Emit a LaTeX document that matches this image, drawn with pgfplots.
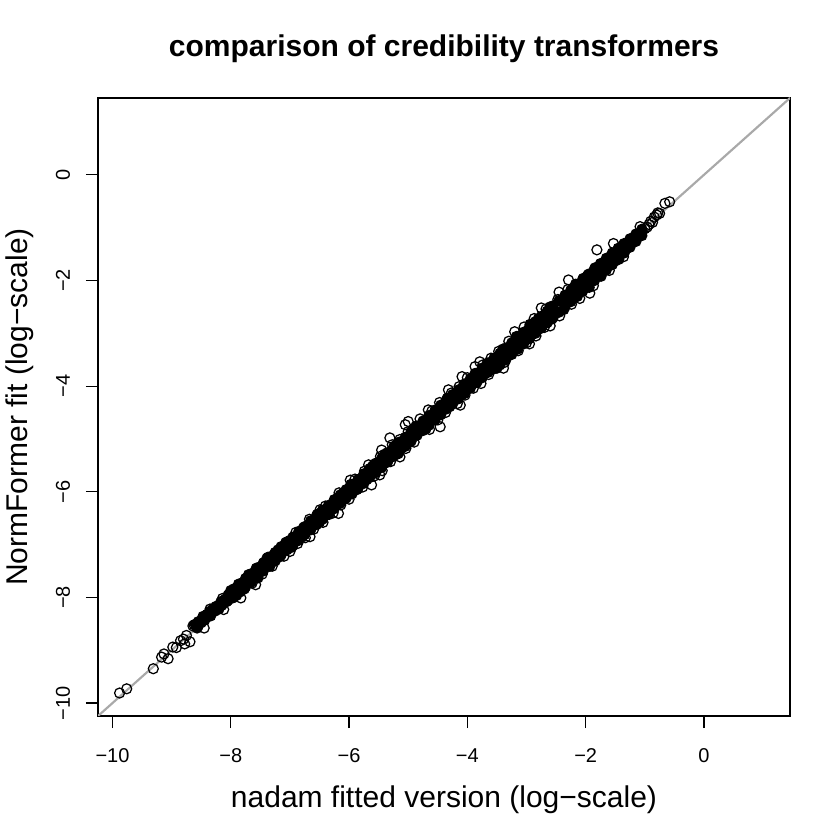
\documentclass[border=0pt]{standalone}
\usepackage{fontspec}
\setmainfont{Liberation Sans}
\usepackage{pgfplots}
\pgfplotsset{compat=1.18}
\definecolor{ablinegray}{RGB}{169,169,169}

% dense core of the cloud (drawn filled, overlapping circles look solid)
\pgfplotstableread{
x y
-8.60 -8.51
-8.57 -8.58
-8.54 -8.48
-8.50 -8.48
-8.47 -8.36
-8.44 -8.43
-8.40 -8.32
-8.37 -8.33
-8.34 -8.35
-8.30 -8.21
-8.27 -8.26
-8.24 -8.19
-8.20 -8.22
-8.17 -8.09
-8.14 -8.12
-8.10 -8.04
-8.07 -8.08
-8.04 -7.95
-8.00 -7.87
-7.97 -8.01
-7.94 -7.89
-7.90 -7.96
-7.87 -7.75
-7.84 -7.81
-7.80 -7.72
-7.77 -7.84
-7.74 -7.74
-7.70 -7.57
-7.67 -7.69
-7.60 -7.54
-7.57 -7.45
-7.54 -7.63
-7.50 -7.49
-7.44 -7.34
-7.40 -7.35
-7.37 -7.24
-7.34 -7.41
-7.27 -7.19
-7.24 -7.24
-7.20 -7.10
-7.17 -7.23
-7.14 -7.11
-7.04 -7.03
-7.00 -6.92
-6.97 -7.05
-6.94 -6.95
-6.84 -6.80
-6.80 -6.86
-6.77 -6.68
-6.70 -6.64
-6.64 -6.68
-6.57 -6.54
-6.54 -6.43
-6.50 -6.58
-6.47 -6.39
-6.37 -6.38
-6.34 -6.43
-6.30 -6.26
-6.24 -6.15
-6.20 -6.24
-6.10 -6.02
-6.07 -6.13
-6.04 -6.01
-5.97 -5.86
-5.94 -5.92
-5.87 -5.96
-5.84 -5.86
-5.80 -5.75
-5.70 -5.77
-5.64 -5.64
-5.60 -5.51
-5.54 -5.50
-5.50 -5.54
-5.40 -5.29
-5.37 -5.44
-5.34 -5.29
-5.24 -5.26
-5.20 -5.13
-5.17 -5.28
-5.10 -5.15
-5.07 -5.05
-4.97 -5.06
-4.94 -4.89
-4.87 -4.76
-4.84 -4.84
-4.77 -4.84
-4.74 -4.67
-4.70 -4.81
-4.67 -4.63
-4.57 -4.61
-4.54 -4.45
-4.44 -4.49
-4.40 -4.35
-4.34 -4.23
-4.30 -4.39
-4.24 -4.26
-4.20 -4.18
-4.10 -4.17
-4.07 -4.00
-3.97 -4.01
-3.94 -3.90
-3.87 -3.76
-3.84 -3.93
-3.80 -3.75
-3.70 -3.75
-3.67 -3.58
-3.57 -3.68
-3.54 -3.54
-3.50 -3.66
-3.44 -3.46
-3.40 -3.30
-3.34 -3.40
-3.27 -3.40
-3.24 -3.20
-3.20 -3.27
-3.17 -3.06
-3.10 -3.04
-3.07 -3.18
-2.97 -2.98
-2.94 -2.83
-2.90 -2.99
-2.80 -2.72
-2.77 -2.91
-2.74 -2.73
-2.64 -2.70
-2.60 -2.50
-2.57 -2.73
-2.54 -2.56
-2.50 -2.61
-2.40 -2.36
-2.37 -2.55
-2.34 -2.38
-2.27 -2.40
-2.20 -2.21
-2.14 -2.30
-2.07 -2.13
-2.04 -1.96
-2.00 -2.14
-1.97 -1.91
-1.94 -2.13
-1.90 -1.94
-1.84 -1.76
-1.80 -1.91
-1.77 -1.73
-1.74 -1.92
-1.70 -1.72
-1.67 -1.81
-1.64 -1.58
-1.57 -1.63
-1.54 -1.51
-1.50 -1.63
-1.47 -1.48
-1.44 -1.60
-1.40 -1.47
-1.37 -1.33
-1.34 -1.45
-1.30 -1.33
-1.27 -1.37
-1.24 -1.29
-1.20 -1.27
-1.17 -1.17
-1.14 -1.20
-1.10 -1.12
-1.07 -1.14
-1.04 -1.07
-8.55 -8.46
-8.55 -8.54
-8.45 -8.37
-8.45 -8.43
-8.35 -8.26
-8.35 -8.33
-8.25 -8.17
-8.25 -8.24
-8.15 -8.07
-8.15 -8.15
-8.05 -7.97
-8.05 -8.06
-7.95 -7.84
-7.95 -8.00
-7.85 -7.75
-7.85 -7.90
-7.75 -7.64
-7.75 -7.80
-7.65 -7.55
-7.65 -7.71
-7.55 -7.44
-7.55 -7.60
-7.45 -7.35
-7.45 -7.50
-7.35 -7.24
-7.35 -7.40
-7.25 -7.15
-7.25 -7.31
-7.15 -7.04
-7.15 -7.20
-7.05 -6.95
-7.05 -7.10
-6.95 -6.86
-6.95 -7.02
-6.85 -6.75
-6.85 -6.92
-6.75 -6.66
-6.75 -6.81
-6.65 -6.55
-6.65 -6.72
-6.55 -6.46
-6.55 -6.62
-6.45 -6.35
-6.45 -6.52
-6.35 -6.26
-6.35 -6.41
-6.25 -6.15
-6.25 -6.32
-6.15 -6.06
-6.15 -6.22
-6.05 -5.96
-6.05 -6.12
-5.95 -5.86
-5.95 -6.04
-5.85 -5.77
-5.85 -5.94
-5.75 -5.66
-5.75 -5.84
-5.65 -5.56
-5.65 -5.73
-5.55 -5.46
-5.55 -5.64
-5.45 -5.37
-5.45 -5.54
-5.35 -5.26
-5.35 -5.44
-5.25 -5.16
-5.25 -5.33
-5.15 -5.06
-5.15 -5.24
-5.05 -4.97
-5.05 -5.14
-4.95 -4.86
-4.95 -5.04
-4.85 -4.76
-4.85 -4.93
-4.75 -4.66
-4.75 -4.84
-4.65 -4.56
-4.65 -4.74
-4.55 -4.47
-4.55 -4.64
-4.45 -4.36
-4.45 -4.54
-4.35 -4.26
-4.35 -4.43
-4.25 -4.16
-4.25 -4.34
-4.15 -4.07
-4.15 -4.24
-4.05 -3.96
-4.05 -4.14
-3.95 -3.86
-3.95 -4.04
-3.85 -3.76
-3.85 -3.93
-3.75 -3.66
-3.75 -3.84
-3.65 -3.56
-3.65 -3.74
-3.55 -3.47
-3.55 -3.64
-3.45 -3.38
-3.45 -3.60
-3.35 -3.28
-3.35 -3.50
-3.25 -3.18
-3.25 -3.40
-3.15 -3.08
-3.15 -3.30
-3.05 -2.98
-3.05 -3.20
-2.95 -2.88
-2.95 -3.10
-2.85 -2.78
-2.85 -3.00
-2.75 -2.68
-2.75 -2.90
-2.65 -2.58
-2.65 -2.80
-2.55 -2.48
-2.55 -2.70
-2.45 -2.38
-2.45 -2.60
-2.35 -2.28
-2.35 -2.50
-2.25 -2.18
-2.25 -2.40
-2.15 -2.08
-2.15 -2.30
-2.05 -1.98
-2.05 -2.20
-1.95 -1.88
-1.95 -2.10
-1.85 -1.78
-1.85 -2.00
-1.75 -1.68
-1.75 -1.90
-1.65 -1.58
-1.65 -1.80
-1.55 -1.48
-1.55 -1.70
-1.45 -1.39
-1.45 -1.59
-1.35 -1.30
-1.35 -1.48
-1.25 -1.21
-1.25 -1.37
-1.15 -1.12
-1.15 -1.26
-1.05 -1.03
-1.05 -1.15
}\core

% points at the edge of the cloud, tails and outliers
\pgfplotstableread{
x y
-9.88 -9.81
-9.76 -9.73
-9.31 -9.35
-9.17 -9.13
-9.13 -9.07
-9.06 -9.16
-8.98 -8.94
-8.92 -8.95
-8.85 -8.82
-8.80 -8.79
-8.78 -8.88
-8.75 -8.72
-8.69 -8.84
-8.64 -8.54
-8.62 -8.52
-8.45 -8.58
-8.35 -8.22
-8.12 -8.23
-8.14 -8.02
-7.83 -8.01
-7.64 -7.73
-7.58 -7.76
-7.47 -7.56
-7.39 -7.26
-7.30 -7.41
-7.10 -7.22
-7.07 -6.96
-7.00 -7.13
-6.90 -6.77
-6.87 -6.98
-6.74 -6.87
-6.67 -6.52
-6.66 -6.85
-6.60 -6.71
-6.49 -6.34
-6.44 -6.58
-6.40 -6.27
-6.27 -6.40
-6.18 -6.41
-6.17 -6.02
-6.14 -6.25
-6.00 -6.14
-5.98 -5.78
-5.90 -5.76
-5.77 -5.91
-5.74 -5.61
-5.67 -5.49
-5.62 -5.87
-5.57 -5.70
-5.48 -5.68
-5.47 -5.33
-5.45 -5.21
-5.44 -5.60
-5.31 -4.98
-5.30 -5.43
-5.27 -5.11
-5.14 -5.34
-5.14 -5.01
-5.05 -4.73
-5.04 -5.18
-5.00 -4.86
-5.00 -4.67
-4.90 -5.06
-4.80 -4.62
-4.66 -4.45
-4.64 -4.82
-4.60 -4.47
-4.50 -4.64
-4.47 -4.31
-4.46 -4.77
-4.37 -4.50
-4.32 -4.07
-4.27 -4.13
-4.17 -4.33
-4.14 -4.01
-4.12 -4.36
-4.09 -3.82
-4.04 -4.17
-4.00 -3.84
-3.90 -4.04
-3.87 -3.63
-3.79 -3.54
-3.77 -3.95
-3.74 -3.60
-3.64 -3.78
-3.60 -3.47
-3.47 -3.34
-3.39 -3.66
-3.37 -3.55
-3.30 -3.15
-3.20 -2.97
-3.14 -3.33
-3.04 -2.88
-3.00 -3.18
-2.95 -3.20
-2.87 -2.72
-2.84 -3.05
-2.75 -2.52
-2.70 -2.89
-2.67 -2.54
-2.60 -2.86
-2.47 -2.36
-2.45 -2.22
-2.44 -2.67
-2.30 -2.17
-2.29 -1.99
-2.24 -2.45
-2.17 -2.07
-2.10 -2.34
-1.93 -2.24
-1.87 -2.10
-1.81 -1.42
-1.60 -1.81
-1.53 -1.30
-1.36 -1.55
-1.08 -0.98
-1.00 -1.02
-0.96 -0.99
-0.93 -0.94
-0.90 -0.88
-0.87 -0.90
-0.84 -0.80
-0.80 -0.76
-0.78 -0.72
-0.75 -0.73
-0.66 -0.54
-0.58 -0.51
}\edge

\begin{document}
\begin{tikzpicture}
\useasboundingbox (0,0) rectangle (504bp,504bp);
\begin{axis}[
  at={(58.8bp,74.4bp)}, anchor=south west,
  width=415.2bp, height=370.8bp, scale only axis,
  xmin=-10.245, xmax=1.455, ymin=-10.245, ymax=1.455,
  axis line style={line width=0.75bp},
  xtick={-10,-8,-6,-4,-2,0}, ytick={-10,-8,-6,-4,-2,0},
  xticklabels={−10,−8,−6,−4,−2,0},
  yticklabels={−10,−8,−6,−4,−2,0},
  xtick pos=left, ytick pos=left,
  tick align=outside, major tick length=7.2bp,
  every tick/.style={black, line width=0.75bp},
  tick label style={font=\fontsize{12bp}{14bp}\selectfont, inner sep=0pt},
  xticklabel style={anchor=base, yshift=-20.4bp},
  yticklabel style={xshift=-9.6bp, rotate=90, anchor=base},
]
\addplot[only marks, mark=*, mark size=3bp,
  mark options={fill=black, draw=black, line width=0.75bp}] table {\core};
\addplot[only marks, mark=o, mark size=3bp,
  mark options={draw=black, line width=0.75bp}] table {\edge};
\addplot[ablinegray, line width=1.3bp] coordinates {(-10.245,-10.245) (1.455,1.455)};
\end{axis}
\node[font=\fontsize{18bp}{21bp}\selectfont\bfseries, anchor=base]
  at (266.4bp,469.8bp) {comparison of credibility transformers};
\node[font=\fontsize{18bp}{21bp}\selectfont, anchor=base]
  at (266.4bp,19.8bp) {nadam fitted version (log−scale)};
\node[font=\fontsize{18bp}{21bp}\selectfont, anchor=base, rotate=90]
  at (16.2bp,259.8bp) {NormFormer fit (log−scale)};
\end{tikzpicture}
\end{document}
